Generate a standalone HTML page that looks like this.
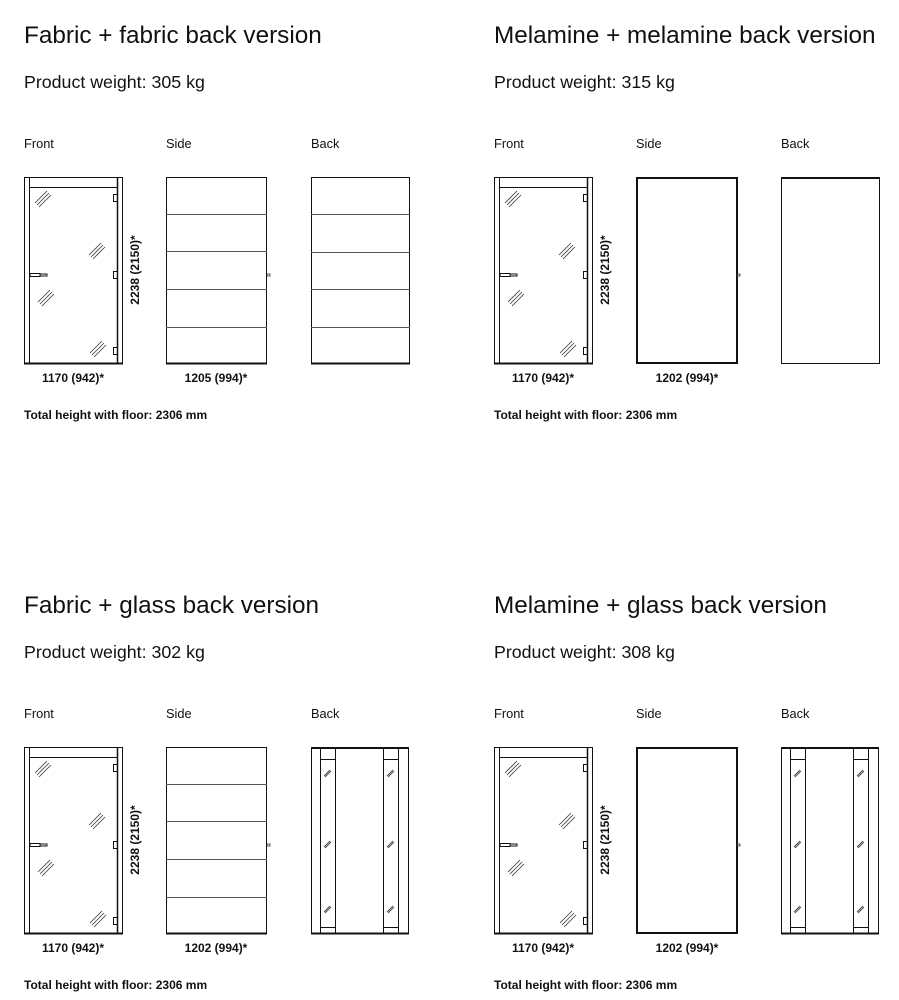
<!DOCTYPE html>
<html><head><meta charset="utf-8"><style>
body{margin:0;background:#fff;width:899px;height:1000px;overflow:hidden}
svg{display:block}
text{font-family:"Liberation Sans",sans-serif;fill:#111}
.t{font-size:24.3px}.w{font-size:17.8px}.l{font-size:12.8px}.b{font-size:12px;font-weight:bold}
</style></head><body>
<svg id="s" width="899" height="1000" viewBox="0 0 899 1000"></svg>
<script>
const S=document.getElementById('s');let h='';
function glass(x,y){return `<g stroke="#333" stroke-width="0.8"><line x1="${x}" y1="${y+8}" x2="${x+12}" y2="${y-4}"/><line x1="${x+2}" y1="${y+10}" x2="${x+14}" y2="${y-2}"/><line x1="${x+4}" y1="${y+12}" x2="${x+16}" y2="${y}"/></g>`}
function panel(ox,oy,title,weight,side,back,w2){
 let g=`<g transform="translate(${ox},${oy})">`;
 g+=`<text class="t" x="24" y="43">${title}</text><text class="w" x="24" y="88">Product weight: ${weight}</text>`;
 g+=`<text class="l" x="24" y="148">Front</text><text class="l" x="166" y="148">Side</text><text class="l" x="311" y="148">Back</text>`;
 g+=`<g fill="none" stroke="#111" stroke-width="1"><rect x="24.5" y="177.5" width="98" height="186"/><line x1="29.5" y1="177" x2="29.5" y2="364"/><line x1="29.5" y1="187.5" x2="117" y2="187.5"/><line x1="117.5" y1="177" x2="117.5" y2="364" stroke-width="1.5"/><line x1="24" y1="363.5" x2="123" y2="363.5" stroke-width="2"/>`;
 for(const y of [194,271,347])g+=`<rect x="113.5" y="${y}.5" width="4" height="7"/>`;
 g+=`<rect x="30" y="273.5" width="10" height="3"/><rect x="40" y="274" width="7" height="2"/></g>`;
 g+=glass(35,195)+glass(89,247)+glass(38,294)+glass(90,345);
 g+=`<text class="b" transform="translate(139,270) rotate(-90)" text-anchor="middle">2238 (2150)*</text>`;
 g+=`<text class="b" x="73" y="382" text-anchor="middle">1170 (942)*</text>`;
 if(side==='f'){g+=`<g fill="none" stroke="#111"><rect x="166.5" y="177.5" width="100" height="186"/><line x1="166" y1="363.5" x2="267" y2="363.5" stroke-width="2"/>`;for(const y of [214,251,289,327])g+=`<line x1="166" y1="${y}.5" x2="267" y2="${y}.5" stroke="#555"/>`;g+=`</g>`;}
 else g+=`<rect x="637" y="178" width="100" height="185" fill="none" stroke="#111" stroke-width="2" transform="translate(-470,0)"/>`;
 g+=`<rect x="267" y="274" width="3" height="2" fill="none" stroke="#333" stroke-width="0.8"/>`;
 g+=`<text class="b" x="${side==='f'?216:217}" y="382" text-anchor="middle">${w2}</text>`;
 if(back==='f'){g+=`<g fill="none" stroke="#111"><rect x="311.5" y="177.5" width="98" height="186"/><line x1="311" y1="363.5" x2="410" y2="363.5" stroke-width="2"/>`;for(const y of [214,252,289,327])g+=`<line x1="311" y1="${y}.5" x2="410" y2="${y}.5" stroke="#555"/>`;g+=`</g>`;}
 else if(back==='m')g+=`<rect x="311.5" y="177.5" width="98" height="186" fill="none" stroke="#111"/><line x1="311" y1="178" x2="410" y2="178" stroke="#111" stroke-width="2"/>`;
 else{g+=`<g fill="none" stroke="#111"><rect x="311.5" y="177.5" width="97" height="186"/><line x1="311" y1="178" x2="409" y2="178" stroke-width="2"/><line x1="311" y1="363.5" x2="409" y2="363.5" stroke-width="2"/>`;
  for(const x of [320,335,383,398])g+=`<line x1="${x}.5" y1="178" x2="${x}.5" y2="364"/>`;
  for(const y of [189,357])g+=`<line x1="320" y1="${y}.5" x2="335" y2="${y}.5"/><line x1="383" y1="${y}.5" x2="398" y2="${y}.5"/>`;
  g+=`</g>`;for(const y of [202,273,338])for(const x of [324,387])g+=`<g stroke="#444" stroke-width="0.9"><line x1="${x}" y1="${y+4}" x2="${x+6}" y2="${y-2}"/><line x1="${x+1}" y1="${y+5}" x2="${x+7}" y2="${y-1}"/></g>`;}
 g+=`<text class="b" x="24" y="419">Total height with floor: 2306 mm</text></g>`;
 h+=g;
}
panel(0,0,'Fabric + fabric back version','305 kg','f','f','1205 (994)*');
panel(470,0,'Melamine + melamine back version','315 kg','m','m','1202 (994)*');
panel(0,570,'Fabric + glass back version','302 kg','f','g','1202 (994)*');
panel(470,570,'Melamine + glass back version','308 kg','m','g','1202 (994)*');
S.innerHTML=h;
</script>
</body></html>
